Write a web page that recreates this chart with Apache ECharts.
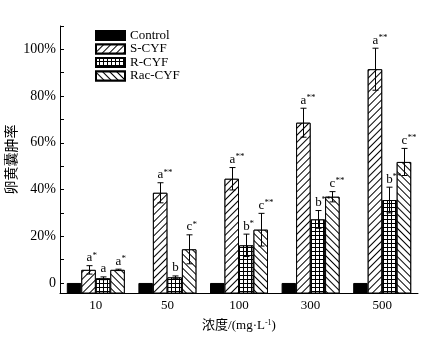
<!DOCTYPE html>
<html>
<head>
<meta charset="utf-8">
<script src="https://cdn.jsdelivr.net/npm/echarts@6/dist/echarts.min.js"></script>
<style>
html, body { margin: 0; padding: 0; background: #fff; }
#chart { width: 435px; height: 339px; }
</style>
</head>
<body>
<div id="chart"></div>
<script>
// 浓度分组
var categories = ['10', '50', '100', '300', '500'];

// 各组卵黄囊肿率(%)、标准差和显著性标记
var controlData = [0, 0, 0, 0, 0];
var sCyfData = [5.6, 38.6, 44.6, 68.6, 91.5];
var sCyfErr = [1.8, 4.3, 4.8, 6.2, 9.0];
var sCyfMark = ['a*', 'a**', 'a**', 'a**', 'a**'];
var rCyfData = [2.0, 2.4, 16.1, 27.2, 35.5];
var rCyfErr = [0.6, 0.6, 4.8, 3.8, 5.5];
var rCyfMark = ['a', 'b', 'b*', 'b**', 'b**'];
var racCyfData = [5.6, 14.4, 22.8, 36.9, 51.8];
var racCyfErr = [0.3, 6.2, 7.0, 2.2, 5.8];
var racCyfMark = ['a*', 'c*', 'c**', 'c**', 'c**'];

// y轴刻度标签
var yTicks = [0, 20, 40, 60, 80, 100];
var yMin = -4.3, yMax = 110;

// 柱子从坐标轴底部画起, 数值整体平移
var SHIFT = 20;
var BAR_W = 14.5;
var FONT = "'Liberation Serif', 'Times New Roman', 'Noto Sans CJK SC', serif";

var dom = document.getElementById('chart');
var myChart = echarts.init(dom);

function hatch(rotation) {
    return {
        symbol: 'rect',
        symbolSize: 1,
        dashArrayX: [1, 0],
        dashArrayY: [1, 3.5],
        rotation: rotation,
        color: '#000',
        backgroundColor: '#fff'
    };
}

var gridDecal = {
    symbol: 'rect',
    symbolSize: 1,
    dashArrayX: [3, 1],
    dashArrayY: [3, 1],
    rotation: 0,
    color: '#fff',
    backgroundColor: '#000'
};

// 柱状图系列
function barSeries(name, data, color, decal) {
    return {
        type: 'bar',
        name: name,
        data: data.map(function (v) { return v + SHIFT; }),
        barWidth: BAR_W,
        barGap: '0%',
        itemStyle: {
            color: color,
            borderColor: '#000',
            borderWidth: 1,
            decal: decal
        },
        emphasis: { disabled: true },
        animation: false
    };
}

// 误差线和显著性标记
function errSeries(idx, data, err, marks) {
    return {
        type: 'custom',
        z: 5,
        silent: true,
        animation: false,
        data: data.map(function (v, i) { return [i, v + SHIFT, err[i]]; }),
        renderItem: function (params, api) {
            var ci = api.value(0), v = api.value(1), e = api.value(2);
            var mark = marks[params.dataIndex];
            var c = api.coord([ci, v]);
            var x = Math.round(c[0] + (idx - 1.5) * BAR_W) + 0.5;
            var top = api.coord([ci, v + e])[1];
            var bot = api.coord([ci, v - e])[1];
            var lineStyle = { stroke: '#000', lineWidth: 1 };
            var children = [
                { type: 'line', shape: { x1: x, y1: top, x2: x, y2: bot }, style: lineStyle },
                { type: 'line', shape: { x1: x - 3, y1: top, x2: x + 3, y2: top }, style: lineStyle },
                { type: 'line', shape: { x1: x - 3, y1: bot, x2: x + 3, y2: bot }, style: lineStyle },
                {
                    type: 'text',
                    style: {
                        text: mark.charAt(0), x: x, y: top - 1.5,
                        align: 'center', verticalAlign: 'bottom',
                        fill: '#000', font: '13px ' + FONT
                    }
                }
            ];
            if (mark.length > 1) {
                children.push({
                    type: 'text',
                    style: {
                        text: mark.slice(1), x: x + 3, y: top - 6,
                        align: 'left', verticalAlign: 'bottom',
                        fill: '#000', font: '9px ' + FONT
                    }
                });
            }
            return { type: 'group', children: children };
        }
    };
}

var option = {
    backgroundColor: '#fff',
    animation: false,
    grid: {
        left: 60,
        right: 17,
        top: 26,
        bottom: 46,
        containLabel: false,
        outerBoundsMode: 'none'
    },
    legend: {
        orient: 'vertical',
        left: 95,
        top: 29,
        padding: 0,
        icon: 'rect',
        itemWidth: 29,
        itemHeight: 9,
        itemGap: 0.5,
        selectedMode: false,
        textStyle: { fontSize: 13, fontFamily: FONT, color: '#000' },
        data: ['Control', 'S-CYF', 'R-CYF', 'Rac-CYF']
    },
    xAxis: {
        type: 'category',
        data: categories,
        boundaryGap: true,
        axisLine: { lineStyle: { color: '#000', width: 1 } },
        axisTick: { show: false },
        axisLabel: { color: '#000', fontSize: 13, fontFamily: FONT, margin: 6 },
        name: '{n|浓度/(mg·L}{s|-1}{n|)}',
        nameLocation: 'middle',
        nameGap: 26,
        nameMoveOverlap: false,
        nameTextStyle: {
            rich: {
                n: { fontSize: 13, fontFamily: FONT, color: '#000', lineHeight: 14 },
                s: { fontSize: 8, fontFamily: FONT, color: '#000', verticalAlign: 'top', lineHeight: 14 }
            }
        }
    },
    yAxis: {
        type: 'value',
        min: yMin + SHIFT,
        max: yMax + SHIFT,
        splitNumber: 11,
        minInterval: 10,
        maxInterval: 10,
        axisLine: { show: true, lineStyle: { color: '#000', width: 1 } },
        axisTick: { show: true, inside: true, length: 4, lineStyle: { color: '#000' } },
        axisLabel: {
            color: '#000',
            fontSize: 14,
            fontFamily: FONT,
            margin: 4,
            formatter: function (v) {
                var a = Math.round((v - SHIFT) * 10) / 10;
                if (yTicks.indexOf(a) < 0) return '';
                return a === 0 ? '0' : a + '%';
            }
        },
        splitLine: { show: false },
        name: '卵黄囊肿率',
        nameLocation: 'middle',
        nameGap: 41,
        nameMoveOverlap: false,
        nameTextStyle: { fontSize: 14, fontFamily: FONT, color: '#000' }
    },
    series: [
        barSeries('Control', controlData, '#000', null),
        barSeries('S-CYF', sCyfData, '#fff', hatch(-Math.PI / 4)),
        barSeries('R-CYF', rCyfData, '#fff', gridDecal),
        barSeries('Rac-CYF', racCyfData, '#fff', hatch(Math.PI / 4)),
        errSeries(1, sCyfData, sCyfErr, sCyfMark),
        errSeries(2, rCyfData, rCyfErr, rCyfMark),
        errSeries(3, racCyfData, racCyfErr, racCyfMark)
    ]
};

myChart.setOption(option);
</script>
</body>
</html>
